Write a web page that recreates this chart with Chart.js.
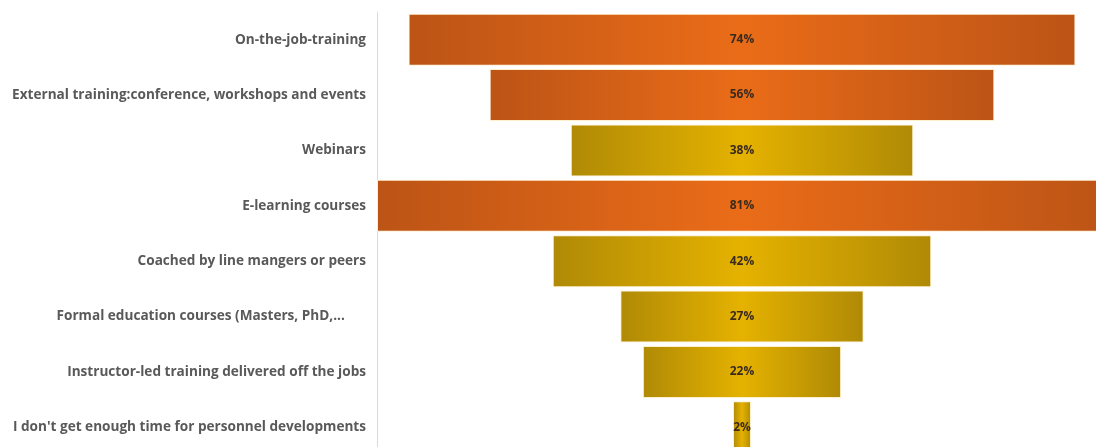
<!DOCTYPE html>
<html>
<head>
<meta charset="utf-8">
<script src="https://cdn.jsdelivr.net/npm/chart.js@4.4.1/dist/chart.umd.min.js"></script>
<style>
  html, body { margin: 0; padding: 0; background: #ffffff; overflow: hidden; }
  .chart-container { position: relative; width: 1107px; height: 455px; }
</style>
</head>
<body>
<div class="chart-container">
  <canvas id="funnelChart"></canvas>
</div>
<script type="text/javascript">
  // survey answers, top to bottom
  var categories = [
    "On-the-job-training",
    "External training:conference, workshops and events",
    "Webinars",
    "E-learning courses",
    "Coached by line mangers or peers",
    "Formal education courses (Masters, PhD,...      ",
    "Instructor-led training delivered off the jobs",
    "I don't get enough time for personnel developments"
  ];
  var shares = [74, 56, 38, 81, 42, 27, 22, 2];

  // widest bar spans the whole axis
  var axisHalf = 40.5;

  var orange = { edge: "#bc5416", mid: "#ea6c18" };
  var gold = { edge: "#b08a06", mid: "#e5b200" };

  function barFill(context) {
    var chart = context.chart;
    var xScale = chart.scales.x;
    var v = shares[context.dataIndex];
    var tone = v >= 50 ? orange : gold;
    if (!chart.chartArea || !xScale || v === undefined) return tone.mid;
    var left = xScale.getPixelForValue(-v / 2);
    var right = xScale.getPixelForValue(v / 2);
    if (!isFinite(left) || !isFinite(right) || right - left < 1) return tone.mid;
    var g = chart.ctx.createLinearGradient(left, 0, right, 0);
    g.addColorStop(0, tone.edge);
    g.addColorStop(0.5, tone.mid);
    g.addColorStop(1, tone.edge);
    return g;
  }

  // percentage written in the middle of each bar
  var centreLabels = {
    id: "centreLabels",
    afterDatasetsDraw: function (chart) {
      var ctx = chart.ctx;
      var meta = chart.getDatasetMeta(0);
      var cx = chart.scales.x.getPixelForValue(0);
      ctx.save();
      ctx.font = "bold 12px 'Open Sans', sans-serif";
      ctx.fillStyle = "#3b2b1c";
      ctx.textAlign = "center";
      ctx.textBaseline = "middle";
      meta.data.forEach(function (bar, i) {
        ctx.fillText(shares[i] + "%", cx, bar.y);
      });
      ctx.restore();
    }
  };

  var chart = new Chart("funnelChart", {
    type: "bar",
    data: {
      labels: categories,
      datasets: [
        {
          data: shares.map(function (v) { return [-v / 2, v / 2]; }),
          backgroundColor: barFill,
          borderColor: "rgba(255, 238, 200, 0.9)",
          borderWidth: 1,
          borderSkipped: false,
          categoryPercentage: 1,
          barPercentage: 0.94
        }
      ]
    },
    options: {
      indexAxis: "y",
      responsive: true,
      maintainAspectRatio: false,
      animation: false,
      layout: { padding: { top: 12, right: 0, bottom: 0, left: 0 } },
      plugins: {
        legend: { display: false },
        tooltip: { enabled: false }
      },
      scales: {
        x: {
          display: false,
          min: -axisHalf,
          max: axisHalf
        },
        y: {
          afterFit: function (scale) {
            scale.width = 377;
            scale.paddingTop = 0;
            scale.paddingBottom = 0;
          },
          grid: { display: false, drawTicks: false },
          border: { display: true, color: "#dadada", width: 1 },
          ticks: {
            padding: 11,
            color: "#595959",
            font: { family: "'Open Sans', sans-serif", size: 13.6, weight: "bold" }
          }
        }
      }
    },
    plugins: [centreLabels]
  });
</script>
</body>
</html>
